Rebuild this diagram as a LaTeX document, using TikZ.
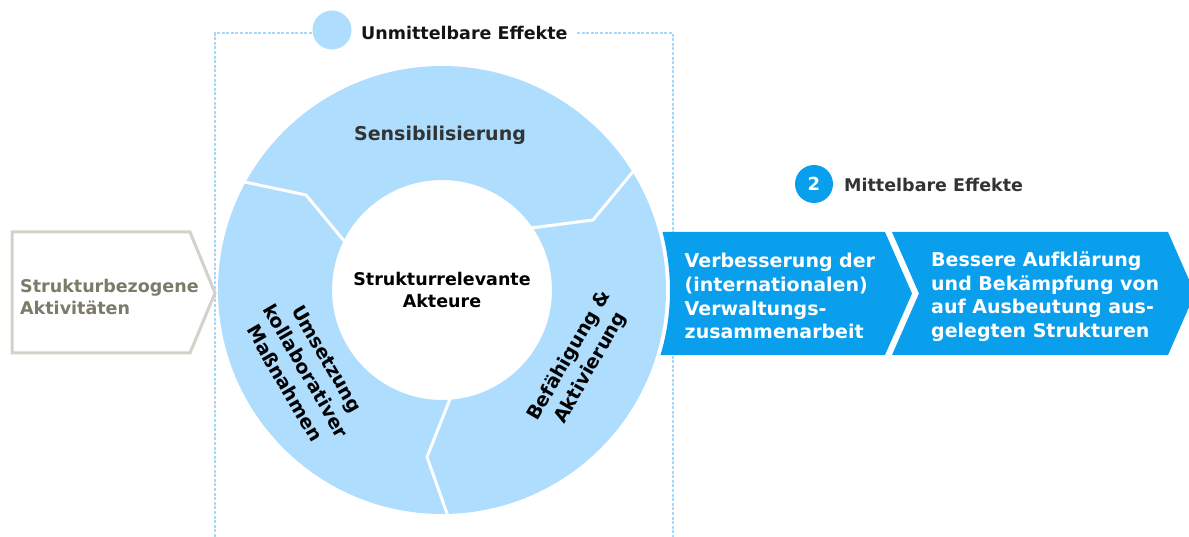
\documentclass[tikz,border=0pt]{standalone}
\usepackage{fontspec}
\setmainfont{DejaVu Sans}
\definecolor{ringblue}{HTML}{AEDDFD}
\definecolor{chevblue}{HTML}{0A9FEC}
\definecolor{greyline}{HTML}{D3D1C9}
\definecolor{greytext}{HTML}{7C7B6A}
\definecolor{darktext}{HTML}{333333}
\definecolor{dashcol}{HTML}{A6D8FA}
\begin{document}
\begin{tikzpicture}[x=1pt,y=-1pt,
  every node/.style={inner sep=0pt},
  fsmall/.style={font=\bfseries\fontsize{17.5}{21.5}\selectfont},
  fcenter/.style={font=\bfseries\fontsize{17.5}{22}\selectfont},
  flarge/.style={font=\bfseries\fontsize{19}{23.6}\selectfont},
  frot/.style={font=\bfseries\fontsize{19}{24.5}\selectfont},
  dashbox/.style={draw=dashcol, line width=1.3pt, dash pattern=on 3pt off 1.6pt},
  divider/.style={draw=white, line width=3pt, line join=miter},
  chevron/.style={fill=chevblue}]
\useasboundingbox (0,0) rectangle (1189,537);
\clip (0,0) rectangle (1189,537);

% dashed frame of the immediate effects
\draw[dashbox] (312,33) -- (215,33) -- (215,545);
\draw[dashbox] (577,33) -- (673,33) -- (673,545);
\node[circle, fill=ringblue, minimum size=39pt] (dot1) at (332,30) {};
\node[fsmall, text=black!92, anchor=base west] (unmit) at (361,40) {Unmittelbare Effekte};

% ring
\coordinate (rc) at (442,290);
\fill[ringblue, even odd rule] (rc) circle[radius=224pt] (rc) circle[radius=110pt];
\draw[divider] (240,181) -- (306,195) -- (345,242);
\draw[divider] (636,168) -- (593,220) -- (531,228);
\draw[divider] (450,399) -- (427,457) -- (450,522);

\node[fcenter, align=center] (akteure) at (442,290.4) {Strukturrelevante\\Akteure};
\node[flarge, text=darktext, anchor=base] (sens) at (440,141) {Sensibilisierung};
\node[frot, align=center, rotate=60] (befa) at (580,362) {Befähigung \&\\Aktivierung};
\node[frot, align=center, rotate=-60] (umse) at (306,371) {Umsetzung\\kollaborativer\\Maßnahmen};

% left grey chevron
\draw[draw=greyline, line width=3pt, fill=white, line join=miter]
  (12,232) -- (190,232) -- (215,293) -- (190,353) -- (12,353) -- cycle;
\node[fsmall, text=greytext, align=left, anchor=west] (struk) at (20,296.8) {Strukturbezogene\\Aktivitäten};

% blue chevrons
\fill[chevron] (662.5,232) -- (885,232) -- (912,293.5) -- (885,355) -- (660.5,355)
  .. controls (672.8,314) and (672.8,273) .. (662.5,232) -- cycle;
\fill[chevron] (892,232) -- (1168,232) -- (1195,293.5) -- (1168,355) -- (892,355) -- (919,293.5) -- cycle;
\node[flarge, text=white, align=left, anchor=west] (verb) at (684.5,296.3)
  {Verbesserung der\\(internationalen)\\Verwaltungs-\\zusammenarbeit};
\node[flarge, text=white, align=left, anchor=west] (bess) at (931,296.8)
  {Bessere Aufklärung\\und Bekämpfung von\\auf Ausbeutung aus-\\gelegten Strukturen};

% mediate effects label
\node[circle, fill=chevblue, minimum size=38pt, text=white, font=\bfseries\fontsize{18}{20}\selectfont] (dot2) at (814,184) {2};
\node[fsmall, text=darktext, anchor=base west] (mittel) at (844,191.7) {Mittelbare Effekte};
\end{tikzpicture}
\end{document}
